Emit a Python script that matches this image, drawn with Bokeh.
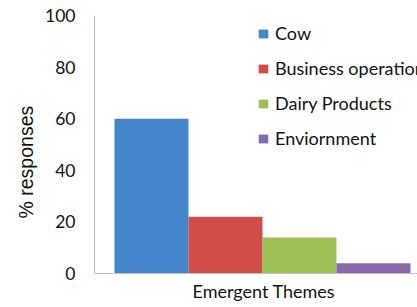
from bokeh.plotting import figure
from bokeh.models import Range1d, ColumnDataSource, Legend, LegendItem, FixedTicker, Title
from bokeh.embed import file_html
from bokeh.resources import INLINE

themes = ["Cow", "Business operation", "Dairy Products", "Enviornment"]
values = [60, 22, 14, 4]
colors = ["#4485cc", "#cf4e47", "#9dbf55", "#8a68ac"]
y_ticks = [0, 20, 40, 60, 80, 100]
y_title = "% responses"
x_title = "Emergent Themes"

FONT = "Lato"
SANS = "Liberation Sans"

p = figure(width=417, height=307, output_backend="svg", toolbar_location=None,
           x_range=Range1d(-0.77, 3.595), y_range=Range1d(0, 100),
           min_border_left=94, min_border_right=0, min_border_top=15, min_border_bottom=34)
p.outline_line_color = None
p.xgrid.grid_line_color = None
p.ygrid.grid_line_color = None

items = []
for i, (t, v, c) in enumerate(zip(themes, values, colors)):
    src = ColumnDataSource(dict(x=[i], top=[v]))
    r = p.vbar(x="x", top="top", bottom=0, width=1.0, source=src,
               fill_color=c, line_color=None)
    items.append(LegendItem(label=t, renderers=[r]))

legend = Legend(items=items, location=(163, 124), border_line_color=None,
                background_fill_alpha=0, padding=0, margin=0,
                glyph_width=12, glyph_height=11, label_standoff=6,
                label_text_font=FONT, label_text_font_size="18px",
                label_text_color="#111111", spacing=13)
p.add_layout(legend, "center")

p.yaxis.ticker = FixedTicker(ticks=y_ticks)
p.yaxis.axis_line_color = "#c0c0c0"
p.yaxis.major_tick_line_color = None
p.yaxis.minor_tick_line_color = None
p.yaxis.major_tick_out = 0
p.yaxis.major_tick_in = 0
p.yaxis.major_label_text_font = FONT
p.yaxis.major_label_text_font_size = "17.5px"
p.yaxis.major_label_text_color = "#111111"
p.yaxis.major_label_standoff = 19

p.xaxis.ticker = FixedTicker(ticks=[])
p.xaxis.axis_line_color = "#c0c0c0"
p.xaxis.major_tick_line_color = None
p.xaxis.minor_tick_line_color = None
p.xaxis.major_tick_out = 0
p.xaxis.major_tick_in = 0
p.xaxis.major_label_text_font_size = "0px"
p.xaxis.major_label_standoff = 0

p.add_layout(Title(text=y_title, align="left", offset=55, standoff=11,
                   text_font=SANS, text_font_size="19.5px", text_font_style="normal",
                   text_color="#111111"), "left")
p.add_layout(Title(text=x_title, align="left", offset=98, standoff=8,
                   text_font=FONT, text_font_size="18px", text_font_style="normal",
                   text_color="#111111"), "below")

open("out.html", "w").write(file_html(p, INLINE))
